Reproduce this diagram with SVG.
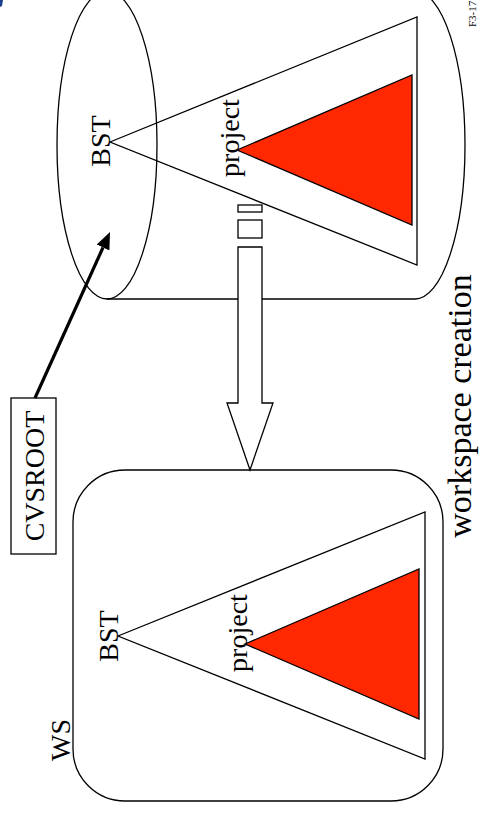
<svg xmlns="http://www.w3.org/2000/svg" width="482" height="816" viewBox="0 0 482 816">
<style>
  .ln { fill: none; stroke: #000; stroke-width: 1.3; }
  .wt { fill: #fff; stroke: #000; stroke-width: 1.3; }
  .red { fill: #ff2800; stroke: #000; stroke-width: 1.3; }
  .t { font-family: "Liberation Serif", "Times New Roman", serif; fill: #000; text-anchor: middle; font-size: 28px; }
</style>
<defs>
  <marker id="ah" viewBox="0 0 17 14" refX="0" refY="7" markerWidth="17" markerHeight="14" markerUnits="userSpaceOnUse" orient="auto">
    <path d="M0,0 L17,7 L0,14 Z" fill="#000"/>
  </marker>
</defs>
<rect width="482" height="816" fill="#fff"/>
<path d="M0,0 L3,0 L2,6 L0,7 Z" fill="#1b3d8f"/>

<g id="repository">
  <path class="wt" d="M107,-9 H415 A50 154 0 0 1 415 299 H107"/>
  <ellipse class="ln" cx="107" cy="145" rx="50" ry="154"/>
  <polygon class="ln" points="110,142 417,17 417,265"/>
  <polygon class="red" points="237,150 412,75 412,225"/>
  <text class="t" transform="translate(110,141) rotate(-90)">BST</text>
  <text class="t" transform="translate(239,138) rotate(-90)">project</text>
</g>

<g id="cvsroot">
  <rect class="wt" x="11" y="398" width="45" height="156"/>
  <text class="t" transform="translate(44,476) rotate(-90)">CVSROOT</text>
</g>

<g id="workspace">
  <rect class="wt" x="73" y="470" width="370" height="331" rx="52" ry="52"/>
  <polygon class="ln" points="118,636 425,512 425,759"/>
  <polygon class="red" points="245,644 419,569 419,719"/>
  <text class="t" transform="translate(118,636) rotate(-90)">BST</text>
  <text class="t" transform="translate(247,633) rotate(-90)">project</text>
  <text class="t" transform="translate(70,740) rotate(-90)">WS</text>
</g>

<g id="connectors">
  <line x1="35" y1="398" x2="103" y2="247.5" stroke="#000" stroke-width="3.2" marker-end="url(#ah)"/>
  <g id="creation-arrow">
    <rect class="wt" x="238" y="205" width="24" height="7"/>
    <rect class="wt" x="238" y="220" width="24" height="18"/>
    <path class="wt" d="M238,247 L262,247 L262,403 L273,403 L250,470 L227,403 L238,403 Z"/>
  </g>
</g>

<text transform="translate(471,406) rotate(-90)" style="font-family:'Liberation Serif','Times New Roman',serif;font-size:34px;text-anchor:middle;fill:#000">workspace creation</text>
<text transform="translate(476,27) rotate(-90)" style="font-family:'Liberation Serif','Times New Roman',serif;font-size:11px;text-anchor:start;fill:#000">F3-17</text>
</svg>
